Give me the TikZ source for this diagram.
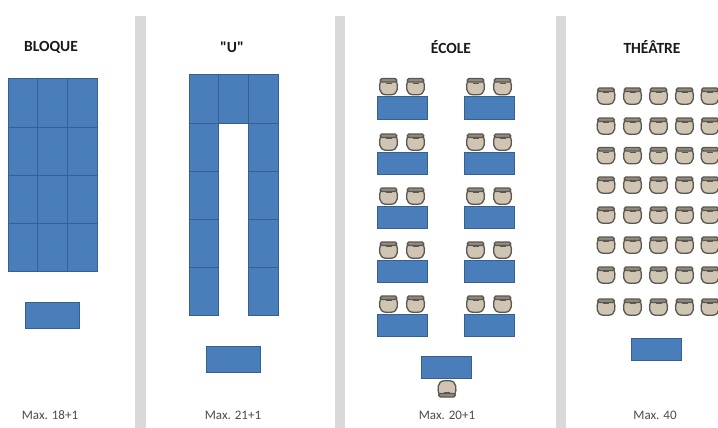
\documentclass[tikz,border=0pt]{standalone}
\usepackage{fontspec}
\setmainfont{Carlito}
\newfontfamily\rawfont{Carlito}
\definecolor{tblue}{HTML}{4A7EBB}
\definecolor{tedge}{HTML}{36608F}
\definecolor{sepgrey}{HTML}{D9D9D9}
\definecolor{chairfill}{HTML}{CFC5B2}
\definecolor{chairedge}{HTML}{5A5850}
\tikzset{
  x=1pt,y=-1pt,
  tablebox/.style={draw=tedge,fill=tblue,line width=1pt},
  sepbar/.style={fill=sepgrey,draw=none},
  headtext/.style={font=\fontsize{15.5}{17}\selectfont\bfseries,text=black!90,inner sep=0pt,anchor=center},
  captext/.style={font=\fontsize{13}{15}\selectfont,text=black!70,inner sep=0pt,anchor=center},
  chairline/.style={draw=chairedge,fill=chairfill,line width=1.3pt},
  chair/.pic={
    \path[chairline] (-8,-5) .. controls (-9.6,-1) and (-10,7.8) .. (-3,8.2)
       -- (3,8.2) .. controls (10,7.8) and (9.6,-1) .. (8,-5) -- cycle;
    \path[chairline,fill=chairfill!70!black,rounded corners=1.5pt] (-8.2,-8) rectangle (8.2,-4.5);
    \draw[chairedge,line width=0.8pt] (-3,-3.4) -- (3,-3.4);
  }
}
\newcommand{\tbl}[4]{\path[tablebox] (#1,#2) rectangle (#3,#4);}
\begin{document}
\begin{tikzpicture}
\useasboundingbox[fill=white] (0,0) rectangle (718,428);
% separators
\path[sepbar] (135,16) rectangle (146,428);
\path[sepbar] (335,16) rectangle (345,428);
\path[sepbar] (556,16) rectangle (566,428);
% titles
\node[headtext] (t1) at (51,47) {BLOQUE};
\node[headtext] (t2) at (232,47) {\rawfont\bfseries "U"};
\node[headtext] (t3) at (451,47) {ÉCOLE};
\node[headtext] (t4) at (652,47) {THÉÂTRE};
% captions
\node[captext] (c1) at (50,415) {Max. 18+1};
\node[captext] (c2) at (233,415) {Max. 21+1};
\node[captext] (c3) at (447,415) {Max. 20+1};
\node[captext] (c4) at (655,415) {Max. 40};
% bloque
\foreach \c in {8,37.7,67.4}
  \foreach \r in {79,127.2,175.4,223.6}
    {\path[tablebox] (\c,\r) rectangle +(29.7,48.2);}
\tbl{25}{302}{79}{328}
% U
\foreach \c in {189,218.7,248.4}
  {\path[tablebox] (\c,75) rectangle +(29.7,48);}
\foreach \c in {189,248.4}
  \foreach \r in {123,171,219,267}
    {\path[tablebox] (\c,\r) rectangle +(29.7,48);}
\tbl{206}{346}{260}{372}
% ecole
\foreach \r/\cy in {97/86.5,152/142,206/196,260/250,314/304}{
  \foreach \c in {377,464}
    {\path[tablebox] (\c,\r) rectangle +(50,22);}
  \foreach \c in {388.5,415.5,475.5,502.5}
    {\pic at (\c,\cy) {chair};}
}
\tbl{421}{356}{471}{378}
\pic[yscale=-1] at (447,389) {chair};
% theatre
\foreach \cy in {96,126,155.5,185,215,245,275,307}
  \foreach \c in {606,632.5,658.5,684.5,710}
    {\pic at (\c,\cy) {chair};}
\tbl{631}{338}{681}{360}
\end{tikzpicture}
\end{document}
